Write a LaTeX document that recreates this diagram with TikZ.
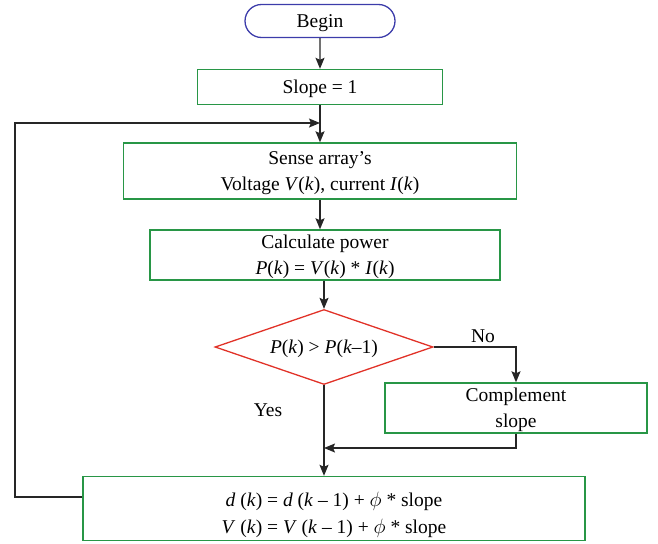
\documentclass[tikz,border=0pt]{standalone}
\usepackage{fontspec}
\setmainfont{Liberation Serif}
\usetikzlibrary{shapes.geometric,shapes.misc,arrows.meta}
\definecolor{boxgreen}{RGB}{40,150,70}
\definecolor{dred}{RGB}{225,50,40}
\definecolor{bblue}{RGB}{60,60,170}
\tikzset{
  txt/.style={font=\fontsize{19.5}{26}\selectfont},
  stepbox/.style={draw=boxgreen,line width=1.4pt,rectangle,align=center,inner sep=0pt,text depth=0pt,txt},
  flow/.style={draw=black!85,line width=1.3pt,-{Stealth[length=11pt,width=9pt,inset=2pt]}},
  plain/.style={draw=black!85,line width=1.3pt},
  lbl/.style={txt}
}
\begin{document}
\begin{tikzpicture}[x=1pt,y=-1pt]
\useasboundingbox (0,0) rectangle (658,543);
\node[draw=bblue,line width=1.3pt,rounded rectangle,minimum width=150pt,minimum height=33pt,inner sep=0pt,text depth=-1pt,txt] (begin) at (320,21) {Begin};
\node[stepbox,minimum width=245pt,minimum height=35pt] (slope) at (320,87) {Slope = 1};
\node[stepbox,minimum width=393pt,minimum height=56pt] (sense) at (320,171) {Sense array's\\Voltage \textit{V}(\textit{k}), current \textit{I}(\textit{k})};
\node[stepbox,minimum width=350pt,minimum height=50pt] (calc) at (325,255) {Calculate power\\\textit{P}(\textit{k}) = \textit{V}(\textit{k}) * \textit{I}(\textit{k})};
\node[draw=dred,line width=1.3pt,diamond,aspect=2.9,minimum width=218pt,minimum height=75pt,inner sep=0pt,text depth=0pt,txt] (dec) at (324,347) {\textit{P}(\textit{k}) > \textit{P}(\textit{k}--1)};
\node[stepbox,minimum width=262pt,minimum height=50pt] (comp) at (516,408) {Complement\\slope};
\node[draw=boxgreen,line width=1.4pt,rectangle,inner sep=0pt,minimum width=502pt,minimum height=64pt,font=\fontsize{19.5}{27}\selectfont] (upd) at (334,508.5) {\raisebox{-24.5pt}[0pt][0pt]{\begin{tabular}[b]{@{}c@{}}\textit{d} (\textit{k}) = \textit{d} (\textit{k} -- 1) + $\phi$ * slope\\\textit{V} (\textit{k}) = \textit{V} (\textit{k} -- 1) + $\phi$ * slope\end{tabular}}};
\coordinate (j1) at (320,123);
\coordinate (j2) at (324,448);
\node[lbl] (no) at (483,336) {No};
\node[lbl] (yes) at (268,410) {Yes};
\draw[flow] (begin) -- (slope);
\draw[plain] (slope.south) -- (j1);
\draw[flow] (j1) -- (sense.north);
\draw[flow] (sense.south) -- (sense.south |- calc.north);
\draw[flow] (calc.south -| dec.north) -- (dec.north);
\draw[flow] (dec.east) -| (comp.north);
\draw[flow] (comp.south) |- (j2);
\draw[flow] (dec.south) -- (dec.south |- upd.north);
\draw[flow] (upd.west |- 0,497) -| (15,123) -- (j1);
\end{tikzpicture}
\end{document}
